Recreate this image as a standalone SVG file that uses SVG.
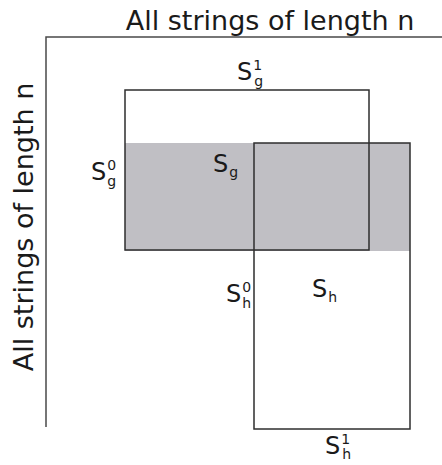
<svg xmlns="http://www.w3.org/2000/svg" width="442" height="465" viewBox="0 0 442 465">
<style>
.t{font-family:"DejaVu Sans",sans-serif;fill:#1a1a1a}
.ax{fill:none;stroke:#4a4a4a;stroke-width:1.5}
.bx{fill:none;stroke:#2e2e2e;stroke-width:1.5}
.S{font-size:24px}
.s{font-size:14px}
</style>
<rect width="442" height="465" fill="#ffffff"/>
<g id="axes">
<polyline class="ax" points="442,37 46,37 46,427"/>
<text class="t" x="270" y="30" font-size="27" text-anchor="middle">All strings of length n</text>
<text class="t" transform="translate(33,227) rotate(-90)" font-size="27" text-anchor="middle">All strings of length n</text>
</g>
<g id="shaded">
<rect x="125" y="143" width="285" height="108" fill="#c0bfc4"/>
</g>
<g id="Sg">
<rect class="bx" x="125" y="90" width="244" height="160"/>
<text class="t S" x="237" y="80">S<tspan class="s" dx="1" dy="-10">1</tspan><tspan class="s" dx="-8" dy="16">g</tspan></text>
<text class="t S" x="91" y="180">S<tspan class="s" dx="1" dy="-10">0</tspan><tspan class="s" dx="-9" dy="16">g</tspan></text>
<text class="t S" x="213" y="172">S<tspan class="s" dx="1" dy="5">g</tspan></text>
</g>
<g id="Sh">
<rect class="bx" x="254" y="143" width="156" height="286"/>
<text class="t S" x="226" y="302">S<tspan class="s" dx="1" dy="-10">0</tspan><tspan class="s" dx="-9" dy="16">h</tspan></text>
<text class="t S" x="312" y="297">S<tspan class="s" dx="1" dy="5">h</tspan></text>
<text class="t S" x="325" y="454">S<tspan class="s" dx="1" dy="-10">1</tspan><tspan class="s" dx="-8" dy="15">h</tspan></text>
</g>
</svg>
